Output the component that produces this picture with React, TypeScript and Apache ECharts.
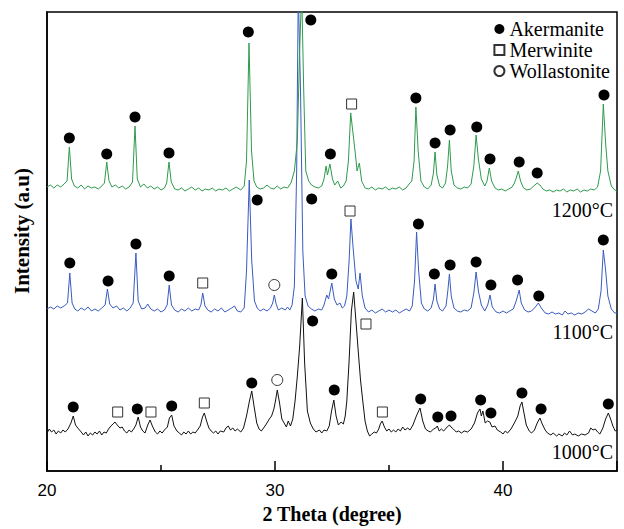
import React, { useEffect, useRef } from "react";
import * as echarts from "echarts";

// XRD traces: [2θ (degree), intensity (offset a.u.)]
const trace1200: [number, number][] = [
  [20.0, 284], [20.15, 286], [20.3, 283], [20.45, 286], [20.6, 284], [20.75, 287], [20.88, 290], [20.98, 324], [21.08, 292],
  [21.2, 285], [21.35, 283], [21.5, 286], [21.65, 282], [21.8, 285], [21.95, 283], [22.1, 284], [22.25, 282], [22.4, 285],
  [22.52, 288], [22.62, 309], [22.72, 290], [22.85, 284], [23.0, 286], [23.15, 283], [23.3, 285], [23.45, 282], [23.6, 284],
  [23.75, 289], [23.86, 345], [23.96, 292], [24.1, 284], [24.25, 287], [24.4, 283], [24.55, 285], [24.7, 282], [24.85, 284],
  [25.0, 281], [25.15, 283], [25.25, 288], [25.35, 309], [25.45, 289], [25.6, 282], [25.75, 281], [25.9, 283], [26.05, 280],
  [26.2, 282], [26.35, 284], [26.5, 281], [26.65, 283], [26.8, 280], [26.95, 282], [27.1, 281], [27.25, 283], [27.4, 280],
  [27.55, 282], [27.7, 281], [27.85, 283], [28.0, 280], [28.15, 282], [28.3, 284], [28.5, 281], [28.65, 285], [28.75, 310],
  [28.86, 428], [28.97, 320], [29.08, 290], [29.2, 284], [29.35, 282], [29.5, 283], [29.65, 286], [29.8, 283], [29.95, 282],
  [30.1, 285], [30.25, 282], [30.4, 284], [30.55, 283], [30.7, 288], [30.85, 300], [30.98, 330], [31.08, 420], [31.17, 480],
  [31.26, 380], [31.35, 300], [31.48, 290], [31.6, 286], [31.75, 284], [31.9, 283], [32.05, 285], [32.15, 292], [32.24, 305],
  [32.3, 296], [32.41, 307], [32.52, 292], [32.62, 286], [32.75, 290], [32.88, 283], [33.0, 285], [33.12, 290], [33.22, 310],
  [33.32, 358], [33.42, 338], [33.52, 318], [33.6, 300], [33.7, 308], [33.8, 290], [33.95, 283], [34.1, 282], [34.25, 284],
  [34.4, 281], [34.55, 283], [34.7, 282], [34.85, 284], [35.0, 281], [35.15, 283], [35.3, 282], [35.45, 284], [35.6, 281],
  [35.75, 283], [35.88, 287], [36.0, 290], [36.1, 310], [36.18, 364], [36.28, 320], [36.4, 290], [36.55, 284], [36.7, 282],
  [36.85, 286], [36.95, 298], [37.02, 319], [37.1, 296], [37.22, 285], [37.35, 283], [37.48, 288], [37.57, 305], [37.65, 331],
  [37.73, 300], [37.85, 286], [38.0, 283], [38.15, 282], [38.3, 284], [38.45, 283], [38.6, 287], [38.72, 305], [38.82, 336],
  [38.92, 312], [39.05, 292], [39.2, 285], [39.3, 290], [39.4, 303], [39.5, 290], [39.65, 283], [39.8, 281], [39.95, 282],
  [40.1, 280], [40.25, 282], [40.4, 284], [40.5, 288], [40.58, 293], [40.67, 300], [40.77, 290], [40.9, 283], [41.05, 281],
  [41.2, 282], [41.35, 285], [41.5, 288], [41.62, 286], [41.75, 282], [41.9, 280], [42.05, 281], [42.2, 279], [42.35, 281],
  [42.5, 280], [42.65, 282], [42.8, 279], [42.95, 281], [43.1, 280], [43.25, 282], [43.4, 279], [43.55, 281], [43.7, 280],
  [43.85, 282], [44.0, 281], [44.15, 284], [44.28, 300], [44.4, 367], [44.5, 328], [44.6, 300], [44.75, 285], [44.9, 281],
  [45.0, 280],
];

const trace1100: [number, number][] = [
  [20.0, 162], [20.15, 164], [20.3, 162], [20.45, 165], [20.6, 163], [20.75, 165], [20.9, 168], [21.0, 198], [21.1, 168],
  [21.22, 162], [21.35, 160], [21.5, 163], [21.65, 161], [21.8, 164], [21.95, 160], [22.1, 162], [22.25, 160], [22.4, 163],
  [22.55, 166], [22.65, 182], [22.75, 167], [22.9, 163], [23.05, 165], [23.2, 161], [23.35, 163], [23.5, 160], [23.65, 163],
  [23.78, 168], [23.9, 218], [24.0, 170], [24.15, 162], [24.3, 163], [24.42, 167], [24.55, 162], [24.7, 160], [24.85, 162],
  [25.0, 159], [25.15, 161], [25.27, 166], [25.36, 186], [25.46, 166], [25.6, 161], [25.75, 159], [25.9, 162], [26.05, 160],
  [26.2, 163], [26.35, 160], [26.5, 162], [26.65, 161], [26.75, 166], [26.83, 178], [26.93, 165], [27.05, 161], [27.2, 159],
  [27.35, 162], [27.5, 160], [27.65, 163], [27.8, 159], [27.95, 161], [28.1, 163], [28.22, 165], [28.35, 160], [28.5, 159],
  [28.65, 163], [28.75, 200], [28.87, 291], [28.98, 210], [29.1, 170], [29.22, 163], [29.35, 160], [29.5, 162], [29.65, 160],
  [29.8, 163], [29.9, 168], [29.97, 176], [30.05, 167], [30.15, 161], [30.3, 163], [30.45, 161], [30.55, 164], [30.65, 161],
  [30.75, 166], [30.85, 185], [30.95, 300], [31.02, 480], [31.12, 380], [31.22, 220], [31.32, 175], [31.45, 165], [31.6, 162],
  [31.75, 160], [31.9, 162], [32.05, 161], [32.15, 166], [32.27, 176], [32.35, 172], [32.49, 188], [32.6, 172], [32.72, 166],
  [32.85, 168], [32.95, 163], [33.05, 165], [33.15, 175], [33.25, 210], [33.33, 252], [33.42, 225], [33.55, 190], [33.65, 182],
  [33.73, 198], [33.83, 175], [33.95, 163], [34.1, 159], [34.25, 161], [34.4, 158], [34.55, 160], [34.7, 162], [34.85, 159],
  [35.0, 161], [35.15, 159], [35.3, 161], [35.45, 158], [35.6, 160], [35.75, 162], [35.9, 160], [36.02, 165], [36.12, 190],
  [36.21, 239], [36.3, 200], [36.42, 168], [36.55, 162], [36.7, 160], [36.85, 163], [36.95, 172], [37.02, 187], [37.1, 170],
  [37.22, 162], [37.35, 160], [37.5, 165], [37.58, 180], [37.65, 197], [37.73, 175], [37.85, 163], [38.0, 160], [38.15, 159],
  [38.3, 161], [38.45, 160], [38.6, 163], [38.72, 178], [38.82, 199], [38.92, 180], [39.05, 166], [39.2, 160], [39.33, 166],
  [39.43, 176], [39.53, 164], [39.7, 159], [39.85, 158], [40.0, 160], [40.15, 158], [40.3, 160], [40.45, 162], [40.58, 170],
  [40.71, 181], [40.8, 168], [40.95, 161], [41.1, 159], [41.25, 160], [41.42, 164], [41.55, 168], [41.68, 163], [41.85, 158],
  [42.0, 157], [42.15, 159], [42.3, 157], [42.45, 158], [42.6, 156], [42.72, 160], [42.85, 157], [43.0, 158], [43.15, 156],
  [43.3, 158], [43.45, 157], [43.6, 159], [43.75, 162], [43.9, 160], [44.05, 158], [44.18, 162], [44.3, 180], [44.4, 221],
  [44.5, 201], [44.6, 175], [44.75, 162], [44.9, 158], [45.0, 158],
];

const trace1000: [number, number][] = [
  [20.0, 38], [20.1, 42], [20.2, 39], [20.3, 41], [20.4, 37], [20.5, 40], [20.6, 38], [20.7, 41], [20.8, 39], [20.92, 42],
  [21.05, 48], [21.15, 55], [21.25, 46], [21.35, 43], [21.5, 39], [21.6, 36], [21.7, 39], [21.8, 35], [21.9, 38], [22.0, 36],
  [22.1, 39], [22.2, 37], [22.3, 40], [22.4, 36], [22.5, 39], [22.6, 38], [22.7, 42], [22.8, 45], [22.9, 47], [22.98, 49],
  [23.08, 46], [23.2, 43], [23.3, 44], [23.4, 40], [23.5, 38], [23.6, 41], [23.7, 39], [23.8, 42], [23.9, 46], [24.0, 54],
  [24.1, 44], [24.2, 40], [24.3, 38], [24.42, 46], [24.52, 51], [24.62, 45], [24.75, 39], [24.85, 37], [24.95, 40], [25.05, 38],
  [25.15, 41], [25.28, 44], [25.37, 53], [25.47, 56], [25.57, 45], [25.7, 40], [25.8, 38], [25.9, 36], [26.0, 39], [26.1, 37],
  [26.2, 40], [26.3, 37], [26.4, 39], [26.5, 38], [26.6, 41], [26.72, 45], [26.82, 54], [26.9, 58], [27.0, 50], [27.1, 43],
  [27.2, 40], [27.3, 38], [27.4, 40], [27.5, 37], [27.6, 40], [27.75, 39], [27.85, 43], [27.95, 45], [28.05, 41], [28.15, 43],
  [28.25, 40], [28.35, 42], [28.5, 39], [28.62, 43], [28.75, 55], [28.88, 70], [28.98, 80], [29.08, 65], [29.2, 48], [29.3, 42],
  [29.4, 40], [29.5, 43], [29.62, 47], [29.75, 52], [29.85, 55], [29.95, 62], [30.02, 70], [30.1, 81], [30.2, 68], [30.3, 52],
  [30.4, 48], [30.5, 44], [30.58, 50], [30.68, 45], [30.78, 52], [30.88, 70], [30.98, 95], [31.08, 124], [31.2, 173],
  [31.3, 108], [31.42, 60], [31.55, 48], [31.68, 42], [31.8, 39], [31.95, 41], [32.05, 38], [32.15, 41], [32.27, 40],
  [32.38, 45], [32.48, 60], [32.58, 71], [32.68, 55], [32.78, 46], [32.9, 49], [33.0, 47], [33.08, 55], [33.15, 70],
  [33.25, 110], [33.35, 160], [33.45, 179], [33.55, 150], [33.65, 120], [33.75, 91], [33.85, 70], [33.95, 50], [34.05, 40],
  [34.15, 35], [34.25, 37], [34.35, 39], [34.45, 38], [34.55, 42], [34.62, 47], [34.7, 50], [34.8, 44], [34.9, 40], [35.0, 42],
  [35.1, 39], [35.2, 41], [35.3, 39], [35.4, 42], [35.5, 40], [35.6, 44], [35.7, 41], [35.82, 43], [35.92, 41], [36.05, 46],
  [36.2, 55], [36.36, 63], [36.48, 50], [36.6, 42], [36.72, 40], [36.82, 39], [36.95, 42], [37.05, 43], [37.12, 45], [37.2, 40],
  [37.3, 42], [37.4, 40], [37.55, 44], [37.65, 46], [37.72, 44], [37.82, 42], [37.95, 39], [38.05, 40], [38.18, 38], [38.3, 40],
  [38.45, 39], [38.6, 42], [38.75, 48], [38.88, 58], [38.99, 62], [39.05, 55], [39.12, 60], [39.22, 48], [39.32, 50],
  [39.42, 49], [39.52, 44], [39.65, 45], [39.75, 41], [39.9, 39], [40.0, 37], [40.1, 40], [40.2, 38], [40.35, 42], [40.5, 48],
  [40.65, 55], [40.75, 65], [40.83, 69], [40.92, 58], [41.02, 46], [41.15, 40], [41.25, 38], [41.38, 41], [41.5, 48],
  [41.62, 53], [41.72, 47], [41.85, 41], [41.95, 38], [42.1, 36], [42.2, 38], [42.35, 35], [42.45, 37], [42.6, 35], [42.7, 38],
  [42.8, 36], [42.92, 40], [43.05, 36], [43.15, 37], [43.3, 35], [43.45, 37], [43.6, 36], [43.75, 38], [43.85, 43], [43.95, 41],
  [44.05, 42], [44.15, 39], [44.25, 37], [44.38, 43], [44.5, 52], [44.62, 58], [44.72, 52], [44.82, 45], [44.92, 40], [45.0, 41],
];

// Phase markers: [2θ, marker height]
const akermanite: [number, number][] = [
  // 1200 °C
  [20.98, 333], [22.62, 317], [23.86, 354], [25.35, 318], [28.83, 439], [31.57, 451], [32.43, 317], [36.18, 373],
  [37.02, 328], [37.68, 341], [38.85, 344], [39.43, 312], [40.71, 309], [41.5, 298], [44.43, 376],
  // 1100 °C
  [21.0, 208], [22.68, 190], [23.9, 227], [25.36, 195], [29.22, 271], [31.61, 272], [32.49, 197], [36.29, 247],
  [36.99, 197], [37.68, 206], [38.82, 209], [39.47, 186], [40.64, 191], [41.57, 175], [44.4, 231],
  // 1000 °C
  [21.15, 64], [23.96, 62], [25.47, 65], [28.98, 88], [31.65, 150], [32.6, 81], [36.39, 72], [37.14, 54], [37.72, 55],
  [39.02, 71], [39.47, 58], [40.83, 78], [41.67, 62], [44.62, 67],
];
const merwinite: [number, number][] = [
  [33.36, 367],
  [26.83, 188], [33.29, 260],
  [23.1, 59], [24.56, 59], [26.9, 68], [33.99, 147], [34.71, 59],
];
const wollastonite: [number, number][] = [
  [29.97, 186],
  [30.1, 91],
];

const tempLabels = ["1200°C", "1100°C", "1000°C"];
const tempLabelY = [210, 332, 452];

export default function App() {
  const ref = useRef<HTMLDivElement>(null);
  useEffect(() => {
    if (!ref.current) return;
    const chart = echarts.init(ref.current, undefined, { renderer: "svg" });
    const serif = "'Liberation Serif', 'Times New Roman', serif";
    chart.setOption({
      animation: false,
      backgroundColor: "#fff",
      grid: {
        left: 47,
        right: 7,
        top: 12,
        bottom: 58,
        show: true,
        borderColor: "#000",
        borderWidth: 1.5,
        backgroundColor: "transparent",
      },
      legend: {
        data: ["Akermanite", "Merwinite", "Wollastonite"],
        orient: "vertical",
        right: 9,
        top: 14,
        align: "left",
        itemGap: 1,
        itemWidth: 10,
        itemHeight: 10,
        textStyle: { fontFamily: serif, fontSize: 20, lineHeight: 20, color: "#000" },
      },
      xAxis: {
        type: "value",
        min: 20,
        max: 45,
        interval: 10,
        name: "2 Theta (degree)",
        nameLocation: "middle",
        nameGap: 28,
        nameTextStyle: { fontFamily: serif, fontSize: 20, fontWeight: "bold", color: "#000" },
        axisLine: { show: true, lineStyle: { color: "#000", width: 1.5 } },
        axisTick: { show: true, inside: true, length: 10, lineStyle: { color: "#000", width: 1.5 } },
        minorTick: { show: true, splitNumber: 2, length: 6, lineStyle: { color: "#000", width: 1.5 } },
        axisLabel: {
          fontFamily: "'Liberation Sans', Arial, sans-serif",
          fontSize: 17,
          color: "#000",
          margin: 11,
          showMaxLabel: false,
        },
        splitLine: { show: false },
      },
      yAxis: {
        type: "value",
        min: 0,
        max: 459,
        axisLine: { show: true, lineStyle: { color: "#000", width: 1.5 } },
        axisTick: { show: false },
        axisLabel: { show: false },
        splitLine: { show: false },
      },
      graphic: [
        {
          type: "text",
          x: 22,
          y: 231,
          rotation: Math.PI / 2,
          style: {
            text: "Intensity (a.u)",
            fontFamily: serif,
            fontSize: 21,
            fontWeight: "bold",
            fill: "#000",
            align: "center",
            verticalAlign: "middle",
          },
        },
        ...tempLabels.map((t, i) => ({
          type: "text",
          x: 613,
          y: tempLabelY[i],
          style: {
            text: t,
            fontFamily: serif,
            fontSize: 20,
            fill: "#000",
            align: "right",
            verticalAlign: "middle",
          },
        })),
      ],
      series: [
        {
          name: "1000°C",
          type: "line",
          data: trace1000,
          symbol: "none",
          lineStyle: { color: "#111111", width: 1 },
          clip: true,
        },
        {
          name: "1100°C",
          type: "line",
          data: trace1100,
          symbol: "none",
          lineStyle: { color: "#3a5bbf", width: 1 },
          clip: true,
        },
        {
          name: "1200°C",
          type: "line",
          data: trace1200,
          symbol: "none",
          lineStyle: { color: "#2e9a4e", width: 1 },
          clip: true,
        },
        {
          name: "Akermanite",
          type: "scatter",
          data: akermanite,
          symbol: "circle",
          symbolSize: 11,
          itemStyle: { color: "#000", opacity: 1 },
          z: 5,
        },
        {
          name: "Merwinite",
          type: "scatter",
          data: merwinite,
          symbol: "rect",
          symbolSize: 10,
          itemStyle: { color: "#fff", borderColor: "#333", borderWidth: 1, opacity: 1 },
          z: 5,
        },
        {
          name: "Wollastonite",
          type: "scatter",
          data: wollastonite,
          symbol: "circle",
          symbolSize: 11,
          itemStyle: { color: "#fff", borderColor: "#333", borderWidth: 1, opacity: 1 },
          z: 5,
        },
      ],
    });
    return () => chart.dispose();
  }, []);
  return <div ref={ref} style={{ width: 624, height: 529, position: "absolute", left: 0, top: 0 }} />;
}
